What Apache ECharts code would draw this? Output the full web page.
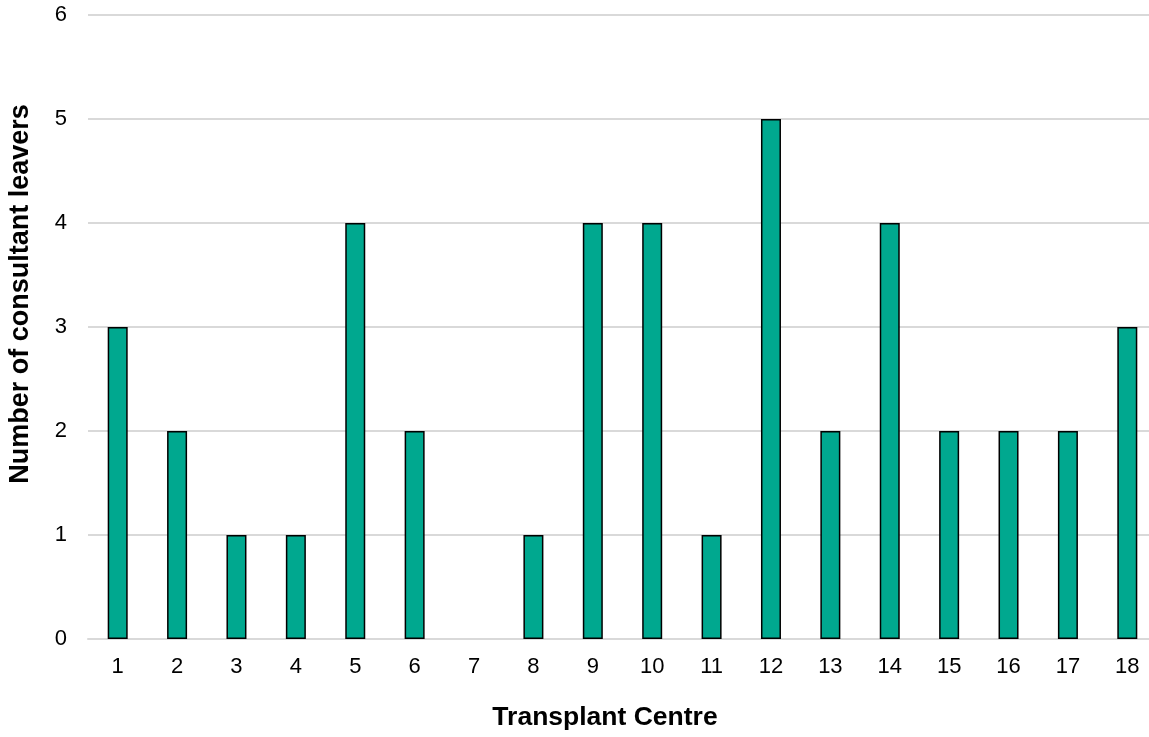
<!DOCTYPE html>
<html>
<head>
<meta charset="utf-8">
<script src="https://cdn.jsdelivr.net/npm/echarts@6/dist/echarts.min.js"></script>
<style>html,body{margin:0;padding:0;background:#fff}#c{width:1149px;height:737px}</style>
</head>
<body>
<div id="c"></div>
<script>
const categories = ['1','2','3','4','5','6','7','8','9','10','11','12','13','14','15','16','17','18'];
const leavers = [3,2,1,1,4,2,0,1,4,4,1,5,2,4,2,2,2,3];
const yTicks = [0,1,2,3,4,5,6];
const xTitle = 'Transplant Centre';
const yTitle = 'Number of consultant leavers';

const chart = echarts.init(document.getElementById('c'));
const font = 'Liberation Sans, Arial, sans-serif';
chart.setOption({
  animation: false,
  textStyle: { fontFamily: font },
  grid: { left: 88, right: -8, top: 15, bottom: 98, containLabel: false, outerBoundsMode: 'none' },
  graphic: [
    { type: 'text', x: 605, y: 718,
      style: { text: xTitle, font: 'bold 26.5px ' + font, fill: '#000', textAlign: 'center', textVerticalAlign: 'middle' } },
    { type: 'text', x: 21, y: 294, rotation: Math.PI / 2,
      style: { text: yTitle, font: 'bold 27px ' + font, fill: '#000', textAlign: 'center', textVerticalAlign: 'middle' } }
  ],
  xAxis: {
    type: 'category',
    data: categories,
    axisTick: { show: false },
    axisLine: { lineStyle: { color: '#d9d9d9', width: 2 } },
    axisLabel: { fontSize: 22, color: '#000', margin: 17, fontFamily: font }
  },
  yAxis: {
    type: 'value',
    min: yTicks[0],
    max: yTicks[yTicks.length - 1],
    interval: 1,
    axisLine: { show: false },
    axisTick: { show: false },
    axisLabel: { fontSize: 22, color: '#000', margin: 21, fontFamily: font },
    splitLine: { lineStyle: { color: '#d9d9d9', width: 2 } }
  },
  series: [{
    type: 'bar',
    data: leavers.map(v => v === 0 ? '-' : v),
    barWidth: 20,
    itemStyle: { color: '#00A88F', borderColor: '#000', borderWidth: 1.5 }
  }]
});
</script>
</body>
</html>
